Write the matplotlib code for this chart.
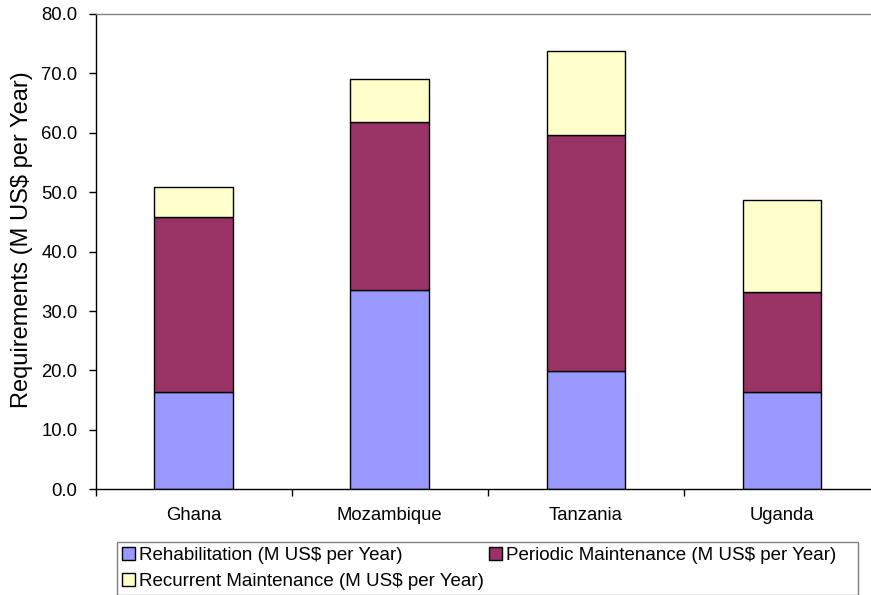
import matplotlib
matplotlib.use("Agg")
import matplotlib.pyplot as plt
import numpy as np
from matplotlib.patches import Rectangle, Patch

plt.rcParams['font.family'] = ['Liberation Sans', 'DejaVu Sans']

countries = ["Ghana", "Mozambique", "Tanzania", "Uganda"]
rehabilitation = [16.4, 33.5, 19.9, 16.4]
periodic = [29.4, 28.3, 39.7, 16.8]
recurrent = [5.1, 7.3, 14.2, 15.5]

series_names = ["Rehabilitation (M US$ per Year)",
                "Periodic Maintenance (M US$ per Year)",
                "Recurrent Maintenance (M US$ per Year)"]
colors = ["#9999FF", "#993366", "#FFFFCC"]
y_ticks = [0, 10, 20, 30, 40, 50, 60, 70, 80]

W, H = 871, 595
fig = plt.figure(figsize=(W / 100, H / 100), dpi=100)
ax = fig.add_axes([95.5 / W, 1 - 489.3 / H, (880 - 95.5) / W, 475.3 / H])

x = np.arange(len(countries))
bw = 0.4
r = np.array(rehabilitation)
p = np.array(periodic)
c = np.array(recurrent)
ax.bar(x, r, bw, color=colors[0], edgecolor="black", linewidth=1.0, zorder=2)
ax.bar(x, p, bw, bottom=r, color=colors[1], edgecolor="black", linewidth=1.0, zorder=2)
ax.bar(x, c, bw, bottom=r + p, color=colors[2], edgecolor="black", linewidth=1.0, zorder=2)

ax.set_xlim(-0.5, len(countries) - 0.5)
ax.set_ylim(0, 80)
ax.set_yticks(y_ticks)
ax.set_yticklabels([f"{v:.1f}" for v in y_ticks], fontsize=13.3)
ax.tick_params(axis="y", direction="out", length=5, width=1, pad=8, color="black")

ax.set_xticks(x)
ax.set_xticklabels(countries, fontsize=13.3)
ax.tick_params(axis="x", which="major", length=0, pad=13)
ax.set_xticks(np.arange(-0.5, len(countries), 1.0), minor=True)
ax.tick_params(axis="x", which="minor", direction="out", length=5, width=1, color="black")

ax.spines["left"].set_color("black")
ax.spines["bottom"].set_color("black")
ax.spines["top"].set_color("#808080")
ax.spines["right"].set_color("#808080")
for s in ax.spines.values():
    s.set_linewidth(1.0)

ax.set_ylabel("Requirements (M US$ per Year)", fontsize=17)
ax.yaxis.set_label_coords(-0.080, 0.525)

# legend frame
fig.patches.append(Rectangle((116.7 / W, 0), (857.7 - 116.7) / W, 1 - 542 / H,
                             transform=fig.transFigure, facecolor="white",
                             edgecolor="#808080", linewidth=1.0, zorder=0))

handles = [Patch(facecolor=colors[i], edgecolor="black", linewidth=1.0) for i in range(3)]
order = [0, 2, 1]
fig.legend([handles[i] for i in order], [series_names[i] for i in order],
           ncol=2, loc="upper left", bbox_to_anchor=(118 / W, 1 - 543 / H),
           frameon=False, fontsize=13.5, handlelength=0.7, handleheight=0.7,
           handletextpad=0.2, columnspacing=0.3, labelspacing=0.47,
           borderpad=0.2, borderaxespad=0)

fig.savefig("out.png", dpi=100)
